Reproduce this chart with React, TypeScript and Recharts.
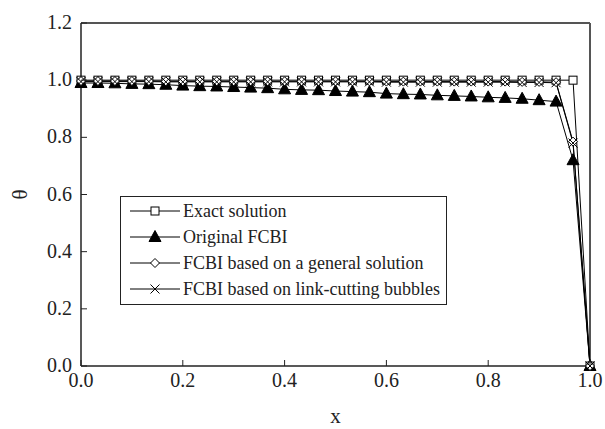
import React from "react";
import { LineChart, Line, XAxis, YAxis, ReferenceLine, Label } from "recharts";

const xValues = [0, 1/30, 2/30, 3/30, 4/30, 5/30, 6/30, 7/30, 8/30, 9/30, 10/30, 11/30, 12/30, 13/30, 14/30, 15/30, 16/30, 17/30, 18/30, 19/30, 20/30, 21/30, 22/30, 23/30, 24/30, 25/30, 26/30, 27/30, 28/30, 29/30, 1];
const exactSolution = [1, 1, 1, 1, 1, 1, 1, 1, 1, 1, 1, 1, 1, 1, 1, 1, 1, 1, 1, 1, 1, 1, 1, 1, 1, 1, 1, 1, 1, 1, 0];
const originalFCBI = [0.99, 0.99, 0.989, 0.987, 0.986, 0.984, 0.981, 0.979, 0.978, 0.976, 0.974, 0.972, 0.968, 0.966, 0.965, 0.962, 0.96, 0.958, 0.953, 0.951, 0.95, 0.947, 0.945, 0.943, 0.94, 0.938, 0.935, 0.93, 0.925, 0.72, 0];
const generalFCBI = [0.997, 0.997, 0.997, 0.997, 0.997, 0.996, 0.996, 0.996, 0.996, 0.996, 0.996, 0.996, 0.996, 0.996, 0.996, 0.996, 0.996, 0.996, 0.995, 0.995, 0.995, 0.995, 0.995, 0.995, 0.995, 0.995, 0.994, 0.994, 0.993, 0.785, 0];
const linkCuttingFCBI = [0.995, 0.995, 0.995, 0.995, 0.995, 0.994, 0.994, 0.994, 0.994, 0.994, 0.994, 0.994, 0.994, 0.994, 0.994, 0.994, 0.994, 0.994, 0.993, 0.993, 0.993, 0.993, 0.993, 0.993, 0.993, 0.993, 0.992, 0.992, 0.991, 0.78, 0];
const xTicks = [0, 0.2, 0.4, 0.6, 0.8, 1.0];
const yTicks = [0, 0.2, 0.4, 0.6, 0.8, 1.0, 1.2];
const seriesNames = ["Exact solution", "Original FCBI", "FCBI based on a general solution", "FCBI based on link-cutting bubbles"];

const data = xValues.map((x, i) => ({
  x,
  exact: exactSolution[i],
  original: originalFCBI[i],
  general: generalFCBI[i],
  link: linkCuttingFCBI[i],
}));

const FONT = "'Liberation Serif', 'Times New Roman', 'DejaVu Serif', serif";

const Square = ({ cx, cy }: any) => (
  <rect x={cx - 4} y={cy - 4} width={8} height={8} fill="#fff" stroke="#000" strokeWidth={1} />
);
const Triangle = ({ cx, cy }: any) => (
  <path d={`M${cx},${cy - 6.5} L${cx + 6},${cy + 4.5} L${cx - 6},${cy + 4.5} Z`} fill="#000" stroke="#000" />
);
const Diamond = ({ cx, cy }: any) => (
  <path d={`M${cx},${cy - 4.5} L${cx + 4.5},${cy} L${cx},${cy + 4.5} L${cx - 4.5},${cy} Z`} fill="#fff" stroke="#000" strokeWidth={1} />
);
const Cross = ({ cx, cy }: any) => (
  <path d={`M${cx - 4.5},${cy - 4.5} L${cx + 4.5},${cy + 4.5} M${cx + 4.5},${cy - 4.5} L${cx - 4.5},${cy + 4.5}`} stroke="#000" strokeWidth={1} fill="none" />
);

const markers = [Square, Triangle, Diamond, Cross];

const makeDot = (M: any) => (props: any) => {
  const { cx, cy, index } = props;
  if (cx == null || cy == null) return <g key={`d-${index}`} />;
  return <g key={`d-${index}`}><M cx={cx} cy={cy} /></g>;
};

const YTick = ({ x, y, payload }: any) => (
  <g>
    <line x1={x} y1={y} x2={x + 6} y2={y} stroke="#222" strokeWidth={1} />
    <text x={x - 9} y={y} dy={6} textAnchor="end" fontFamily={FONT} fontSize={20} fill="#222">
      {Number(payload.value).toFixed(1)}
    </text>
  </g>
);
const XTick = ({ x, y, payload }: any) => (
  <g>
    <line x1={x} y1={y} x2={x} y2={y - 6} stroke="#222" strokeWidth={1} />
    <text x={x} y={y + 21} textAnchor="middle" fontFamily={FONT} fontSize={20} fill="#222">
      {Number(payload.value).toFixed(1)}
    </text>
  </g>
);

const LegendBox = () => (
  <div
    style={{
      position: "absolute",
      left: 120,
      top: 196,
      border: "1px solid #222",
      background: "#fff",
      width: 327,
      padding: "1px 0 2px 0",
      fontFamily: FONT,
      fontSize: 18,
      color: "#222",
      boxSizing: "border-box",
    }}
  >
    {seriesNames.map((name, i) => {
      const M = markers[i];
      return (
        <div key={name} style={{ display: "flex", alignItems: "center", height: 26 }}>
          <svg width={62} height={20} style={{ flex: "none" }}>
            <line x1={9} y1={10} x2={59} y2={10} stroke="#000" strokeWidth={1} />
            <M cx={34} cy={10} />
          </svg>
          <span style={{ whiteSpace: "nowrap" }}>{name}</span>
        </div>
      );
    })}
  </div>
);

export default function App() {
  return (
    <div style={{ position: "absolute", left: 0, top: 0, width: 605, height: 429, background: "#fff" }}>
      <LineChart width={605} height={429} data={data} margin={{ top: 23, right: 15, bottom: 0, left: 0 }}>
        <XAxis
          dataKey="x"
          type="number"
          domain={[0, 1]}
          ticks={xTicks}
          tick={<XTick />}
          tickLine={false}
          tickSize={0}
          tickMargin={0}
          height={63}
          axisLine={{ stroke: "#222", strokeWidth: 1.5 }}
          interval={0}
        >
          <Label value="x" position="insideBottom" offset={6} style={{ fontFamily: FONT, fontSize: 21, fill: "#222" }} />
        </XAxis>
        <YAxis
          type="number"
          domain={[0, 1.2]}
          ticks={yTicks}
          tick={<YTick />}
          tickLine={false}
          tickSize={0}
          tickMargin={0}
          width={81}
          axisLine={{ stroke: "#222", strokeWidth: 1.5 }}
          interval={0}
        >
          <Label value="θ" angle={-90} position="insideLeft" offset={20} style={{ fontFamily: FONT, fontSize: 21, fill: "#222", textAnchor: "middle" }} />
        </YAxis>
        <ReferenceLine y={1.2} stroke="#555" strokeWidth={2} />
        <ReferenceLine x={1} stroke="#555" strokeWidth={2} />
        <Line dataKey="exact" stroke="#000" strokeWidth={1} dot={makeDot(Square)} isAnimationActive={false} />
        <Line dataKey="original" stroke="#000" strokeWidth={1} dot={makeDot(Triangle)} isAnimationActive={false} />
        <Line dataKey="general" stroke="#000" strokeWidth={1} dot={makeDot(Diamond)} isAnimationActive={false} />
        <Line dataKey="link" stroke="#000" strokeWidth={1} dot={makeDot(Cross)} isAnimationActive={false} />
      </LineChart>
      <LegendBox />
    </div>
  );
}
